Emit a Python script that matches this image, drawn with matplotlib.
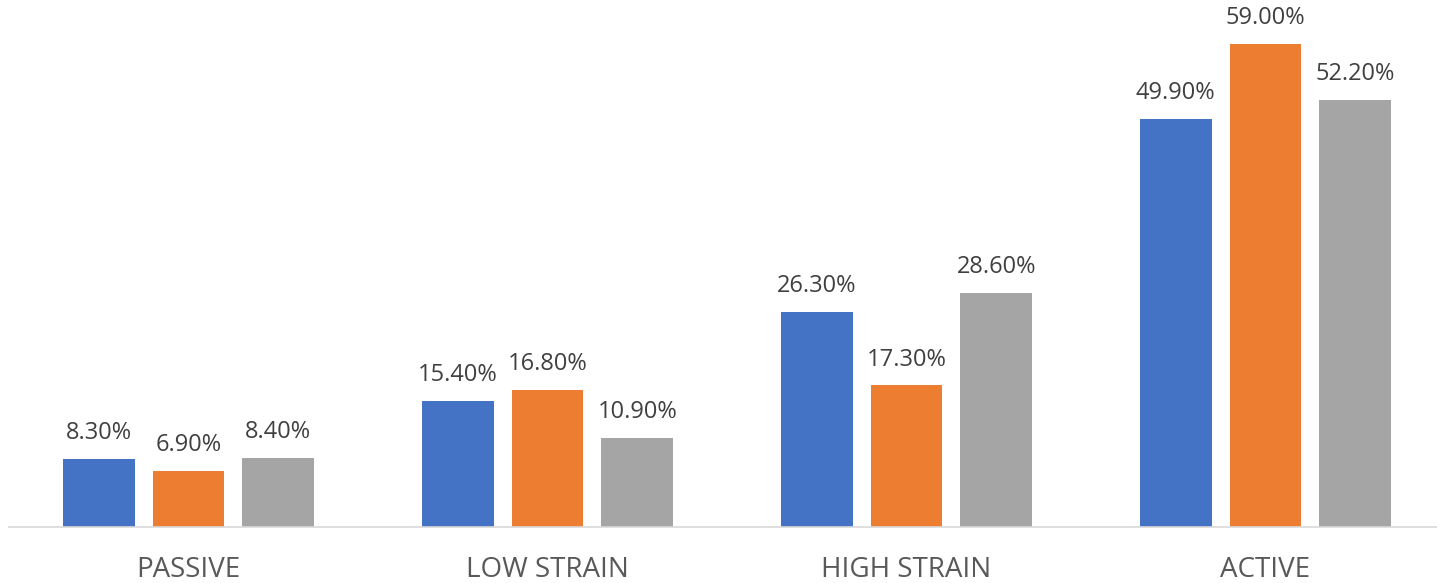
import matplotlib
matplotlib.use("Agg")
import matplotlib.pyplot as plt
import numpy as np

categories = ["PASSIVE", "LOW STRAIN", "HIGH STRAIN", "ACTIVE"]
series_a = [8.3, 15.4, 26.3, 49.9]
series_b = [6.9, 16.8, 17.3, 59.0]
series_c = [8.4, 10.9, 28.6, 52.2]
colors = ["#4472C4", "#ED7D31", "#A5A5A5"]

plt.rcParams["font.family"] = ["Open Sans", "DejaVu Sans"]

W, H = 1437, 583
fig = plt.figure(figsize=(W / 100, H / 100), dpi=100)
ax = fig.add_axes([9 / W, 56 / H, 1 - 9 / W, 1 - 56 / H])

x = np.arange(len(categories))
width = 0.2
offset = 0.25
for i, (vals, col) in enumerate(zip([series_a, series_b, series_c], colors)):
    pos = x + (i - 1) * offset
    bars = ax.bar(pos, vals, width=width, color=col, zorder=2)
    for b, v in zip(bars, vals):
        ax.annotate(f"{v:.2f}%", (b.get_x() + b.get_width() / 2, v),
                    xytext=(0, 10), textcoords="offset points",
                    ha="center", va="bottom", fontsize=17, color="#404040")

ax.set_xlim(-0.5, 3.5 - 8 / 359)
ax.set_ylim(0, 64.4)
ax.set_xticks(x)
ax.set_xticklabels(categories, fontsize=20, color="#595959")
ax.tick_params(axis="x", length=0, pad=21)
ax.set_yticks([])
for s in ["top", "right", "left"]:
    ax.spines[s].set_visible(False)
ax.spines["bottom"].set_color("#D9D9D9")
ax.spines["bottom"].set_linewidth(1.2)

fig.savefig("out.png", dpi=100)
